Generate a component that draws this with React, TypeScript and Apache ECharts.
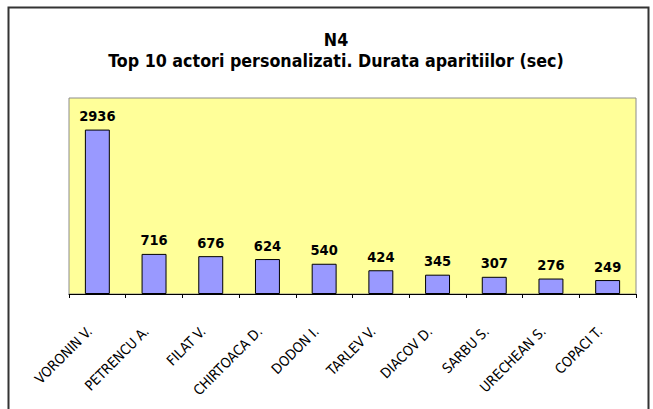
import React, { useEffect, useRef } from "react";
import * as echarts from "echarts";

const titleLines = ["N4", "Top 10 actori personalizati. Durata aparitiilor (sec)"];
const categories = [
  "VORONIN V.",
  "PETRENCU A.",
  "FILAT V.",
  "CHIRTOACA D.",
  "DODON I.",
  "TARLEV V.",
  "DIACOV D.",
  "SARBU S.",
  "URECHEAN S.",
  "COPACI T.",
];
const durations = [2936, 716, 676, 624, 540, 424, 345, 307, 276, 249];

export default function App() {
  const ref = useRef<HTMLDivElement>(null);

  useEffect(() => {
    if (!ref.current) return;
    const chart = echarts.init(ref.current, null, { renderer: "svg" });
    chart.setOption({
      animation: false,
      backgroundColor: "#ffffff",
      title: {
        text: titleLines.join("\n"),
        left: 331,
        top: 24,
        textAlign: "center",
        textStyle: {
          fontFamily: "DejaVu Sans Condensed",
          fontWeight: "bold",
          fontSize: 17.7,
          lineHeight: 21,
          color: "#000",
        },
      },
      graphic: [
        {
          type: "rect",
          shape: { x: 8.5, y: 7.5, width: 640, height: 420 },
          style: { fill: "none", stroke: "#333", lineWidth: 2 },
          silent: true,
          z: 100,
        },
      ],
      grid: {
        left: 69,
        right: 17,
        top: 98,
        bottom: 115,
        show: true,
        backgroundColor: "#FFFF99",
        borderColor: "#8c8c8c",
        borderWidth: 1,
      },
      xAxis: {
        type: "category",
        data: categories,
        boundaryGap: true,
        axisLine: { show: true, lineStyle: { color: "#000", width: 1 } },
        axisTick: { show: true, length: 4, lineStyle: { color: "#000" } },
        axisLabel: {
          rotate: 45,
          interval: 0,
          margin: 27,
          padding: [0, 11, 0, 0],
          fontFamily: "DejaVu Sans Condensed",
          fontSize: 14,
          color: "#000",
        },
        splitLine: { show: false },
      },
      yAxis: {
        type: "value",
        min: 0,
        max: 3500,
        show: false,
        splitLine: { show: false },
      },
      series: [
        {
          type: "bar",
          data: durations,
          barWidth: "44%",
          itemStyle: { color: "#9999FF", borderColor: "#000", borderWidth: 1 },
          label: {
            show: true,
            position: "top",
            distance: 6,
            fontFamily: "DejaVu Sans Condensed",
            fontWeight: "bold",
            fontSize: 14.5,
            color: "#000",
          },
        },
      ],
    });
    return () => chart.dispose();
  }, []);

  return (
    <div
      ref={ref}
      style={{ position: "absolute", left: 0, top: 0, width: 653, height: 409 }}
    />
  );
}
